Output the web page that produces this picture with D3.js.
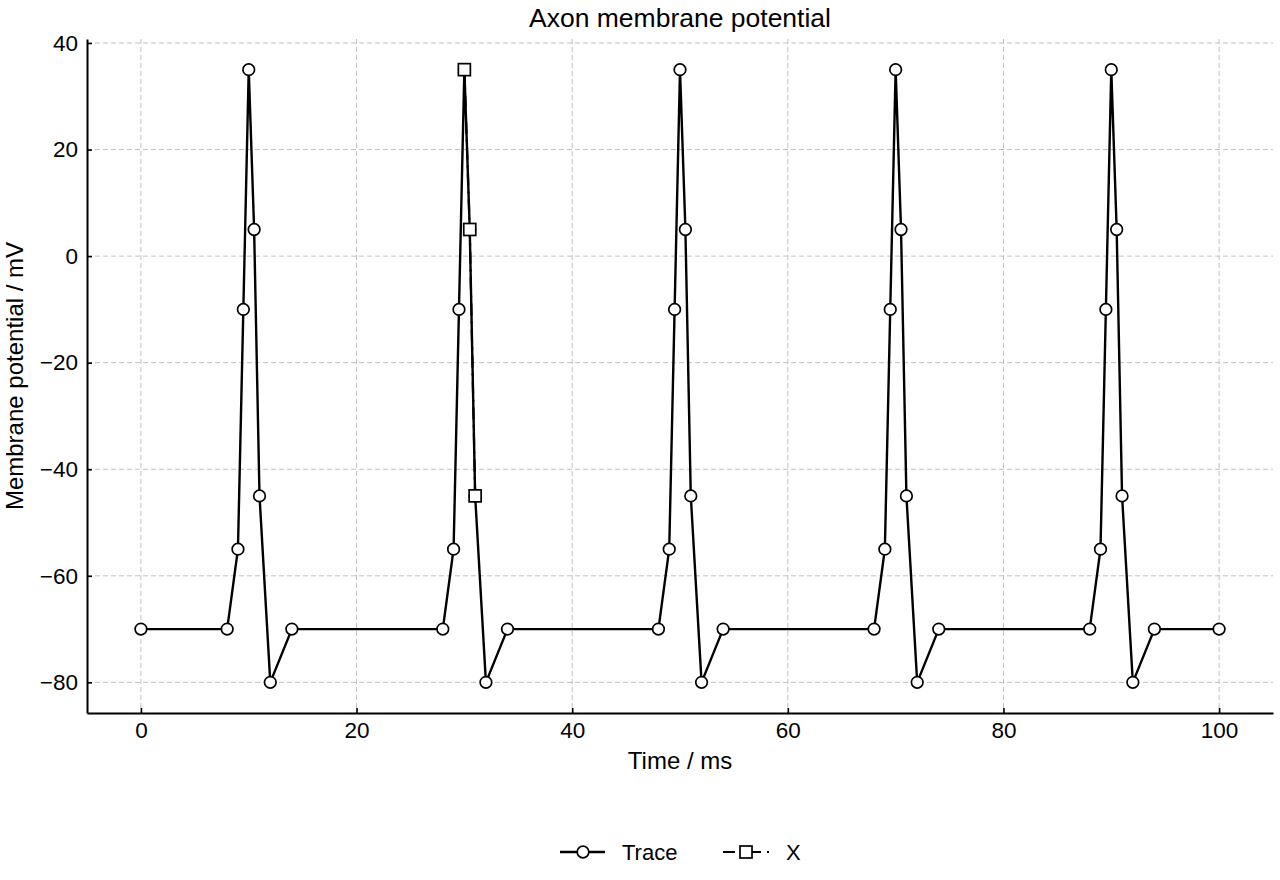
<!DOCTYPE html>
<html>
<head>
<meta charset="utf-8">
<script src="https://cdn.jsdelivr.net/npm/d3@7.9.0/dist/d3.min.js"></script>
<style>
	body { margin: 0; background: #fff; }
	svg { font-family: 'Liberation Sans', Arial, sans-serif; }
	.grid line { stroke: #c0c0c0; stroke-dasharray: 5, 3; stroke-width: 1; }
	.tick text { font-size: 22.5px; fill: #000; }
</style>
</head>
<body>
<svg id="chart" width="1280" height="880"></svg>
<script>
// Trace samples: five identical spikes every 20 ms
const traceTime = [
	0, 8, 9, 9.5, 10, 10.5, 11, 12, 14,
	28, 29, 29.5, 30, 30.5, 31, 32, 34,
	48, 49, 49.5, 50, 50.5, 51, 52, 54,
	68, 69, 69.5, 70, 70.5, 71, 72, 74,
	88, 89, 89.5, 90, 90.5, 91, 92, 94, 100,
];
const traceV = [
	-70, -70, -55, -10, 35, 5, -45, -80, -70,
	-70, -55, -10, 35, 5, -45, -80, -70,
	-70, -55, -10, 35, 5, -45, -80, -70,
	-70, -55, -10, 35, 5, -45, -80, -70,
	-70, -55, -10, 35, 5, -45, -80, -70, -70,
];
// the "X" series
const xTime = [30, 30.5, 31];
const xV = [35, 5, -45];

const xTicks = [0, 20, 40, 60, 80, 100];
const yTicks = [-80, -60, -40, -20, 0, 20, 40];

const margin = { left: 87, right: 1273, top: 39, bottom: 713 };
const svg = d3.select('#chart');

const x = d3.scaleLinear().domain([-5, 105]).range([margin.left, margin.right]);
const y = d3.scaleLinear().domain([-85.75, 40.75]).range([margin.bottom, margin.top]);
const fmt = (d) => (d < 0 ? '\u2212' + Math.abs(d) : String(d));
const dashDot = '12,6,2,6';

// grid
svg.append('g').attr('class', 'grid')
	.selectAll('line').data(xTicks).join('line')
	.attr('x1', (d) => x(d)).attr('x2', (d) => x(d))
	.attr('y1', margin.top).attr('y2', margin.bottom);
svg.append('g').attr('class', 'grid')
	.selectAll('line').data(yTicks).join('line')
	.attr('y1', (d) => y(d)).attr('y2', (d) => y(d))
	.attr('x1', margin.left).attr('x2', margin.right);

// axes, ticks pointing inward
const xAxis = svg.append('g')
	.attr('transform', `translate(0,${margin.bottom})`)
	.call(d3.axisBottom(x).tickValues(xTicks).tickFormat(fmt).tickSizeInner(-5).tickSizeOuter(0).tickPadding(9));
const yAxis = svg.append('g')
	.attr('transform', `translate(${margin.left},0)`)
	.call(d3.axisLeft(y).tickValues(yTicks).tickFormat(fmt).tickSizeInner(-5).tickSizeOuter(0).tickPadding(9));
[xAxis, yAxis].forEach((a) => {
	a.select('.domain').attr('stroke', '#000').attr('stroke-width', 2);
	a.selectAll('.tick line').attr('stroke', '#000').attr('stroke-width', 1.6);
});
xAxis.selectAll('.tick text').attr('dy', '0.71em');

// trace
const line = d3.line().x((d) => x(d[0])).y((d) => y(d[1]));
const tracePts = d3.zip(traceTime, traceV);
svg.append('path')
	.attr('d', line(tracePts))
	.attr('fill', 'none').attr('stroke', '#000').attr('stroke-width', 2.4)
	.attr('stroke-linejoin', 'round');
svg.append('g').selectAll('circle').data(tracePts).join('circle')
	.attr('cx', (d) => x(d[0])).attr('cy', (d) => y(d[1])).attr('r', 5.8)
	.attr('fill', '#fff').attr('stroke', '#000').attr('stroke-width', 1.7);

// X series
const xPts = d3.zip(xTime, xV);
svg.append('path')
	.attr('d', line(xPts))
	.attr('fill', 'none').attr('stroke', '#000').attr('stroke-width', 2.2)
	.attr('stroke-dasharray', dashDot);
svg.append('g').selectAll('rect').data(xPts).join('rect')
	.attr('x', (d) => x(d[0]) - 6).attr('y', (d) => y(d[1]) - 6)
	.attr('width', 12).attr('height', 12)
	.attr('fill', '#fff').attr('stroke', '#000').attr('stroke-width', 1.7);

// labels
svg.append('text').attr('x', (margin.left + margin.right) / 2).attr('y', 27)
	.attr('text-anchor', 'middle').attr('font-size', 26.5).text('Axon membrane potential');
svg.append('text').attr('x', (margin.left + margin.right) / 2).attr('y', 769)
	.attr('text-anchor', 'middle').attr('font-size', 24).text('Time / ms');
svg.append('text')
	.attr('transform', `translate(23,${(margin.top + margin.bottom) / 2}) rotate(-90)`)
	.attr('text-anchor', 'middle').attr('font-size', 24).text('Membrane potential / mV');

// legend
const lg = svg.append('g').attr('transform', 'translate(0,852)');
lg.append('line').attr('x1', 560).attr('x2', 605).attr('stroke', '#000').attr('stroke-width', 2.4);
lg.append('circle').attr('cx', 583).attr('r', 5.8).attr('fill', '#fff').attr('stroke', '#000').attr('stroke-width', 1.7);
lg.append('text').attr('x', 622).attr('y', 8).attr('font-size', 22).text('Trace');
lg.append('line').attr('x1', 723).attr('x2', 769).attr('stroke', '#000').attr('stroke-width', 2.2)
	.attr('stroke-dasharray', dashDot);
lg.append('rect').attr('x', 740).attr('y', -6).attr('width', 12).attr('height', 12)
	.attr('fill', '#fff').attr('stroke', '#000').attr('stroke-width', 1.7);
lg.append('text').attr('x', 786).attr('y', 8).attr('font-size', 22).text('X');
</script>
</body>
</html>
